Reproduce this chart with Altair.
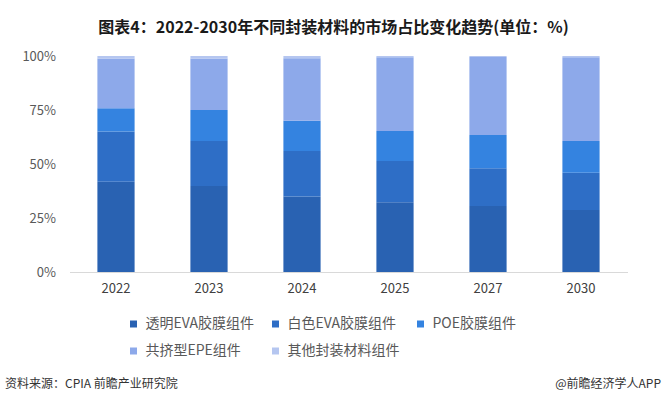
import altair as alt
import pandas as pd

years = ["2022", "2023", "2024", "2025", "2027", "2030"]
series = ["透明EVA胶膜组件", "白色EVA胶膜组件", "POE胶膜组件", "共挤型EPE组件", "其他封装材料组件"]
transparent_eva = [41.8, 39.8, 35.0, 32.3, 30.6, 28.7]
white_eva = [23.2, 20.8, 21.0, 19.1, 17.4, 17.3]
poe = [10.8, 14.4, 14.0, 13.9, 15.4, 14.6]
epe = [23.1, 23.9, 29.0, 34.1, 36.1, 38.8]
other = [1.1, 1.1, 1.0, 0.6, 0.5, 0.6]
colors = ["#2962B2", "#2E6EC6", "#3483E0", "#8DA9EA", "#B5C6F0"]

rows = []
for si, (name, vals) in enumerate(zip(series, [transparent_eva, white_eva, poe, epe, other])):
    for y, v in zip(years, vals):
        rows.append({"year": y, "series": name, "value": v, "order": si})
df = pd.DataFrame(rows)

FONT = "Noto Sans CJK SC"

bars = alt.Chart(df).mark_bar().encode(
    x=alt.X("year:N", sort=years, title=None,
            scale=alt.Scale(paddingInner=0.6, paddingOuter=0.3),
            axis=alt.Axis(labelAngle=0, ticks=False, domainColor="#D9D9D9", labelColor="#404040",
                          labelFontSize=13, labelFont=FONT, labelPadding=10)),
    y=alt.Y("value:Q", stack="zero", title=None,
            scale=alt.Scale(domain=[0, 100], nice=False),
            axis=alt.Axis(values=[0, 25, 50, 75, 100], labelExpr="datum.value + '%'", grid=False,
                          ticks=False, domain=False, labelColor="#595959", labelFontSize=13,
                          labelFont=FONT, labelPadding=14)),
    color=alt.Color("series:N", sort=series, scale=alt.Scale(domain=series, range=colors),
                    legend=alt.Legend(title=None, orient="none", legendX=57, legendY=261,
                                      direction="horizontal", columns=3, columnPadding=14,
                                      rowPadding=13, symbolType="square", symbolSize=49,
                                      symbolStrokeWidth=0, labelFontSize=14, labelFont=FONT,
                                      labelColor="#595959", labelOffset=5, padding=0)),
    order=alt.Order("order:Q", sort="ascending"),
)

foot_left = pd.DataFrame({"t": ["资料来源：CPIA 前瞻产业研究院"]})
foot_right = pd.DataFrame({"t": ["@前瞻经济学人APP"]})

fl = alt.Chart(foot_left).mark_text(align="left", baseline="middle", fontSize=12, font=FONT,
                                    color="#333333").encode(
    text="t:N", x=alt.value(-64.5), y=alt.value(328))
fr = alt.Chart(foot_right).mark_text(align="right", baseline="middle", fontSize=12, font=FONT,
                                     color="#333333").encode(
    text="t:N", x=alt.value(591.5), y=alt.value(328))

chart = alt.layer(bars, fl, fr).properties(
    width=558, height=216,
    background="white",
    title=alt.TitleParams("图表4：2022-2030年不同封装材料的市场占比变化趋势(单位：%)",
                          anchor="middle", frame="group", dx=-15, offset=14,
                          fontSize=16, font=FONT, fontWeight="bold", color="#1a1a1a"),
    autosize=alt.AutoSizeParams(type="none"),
    padding={"left": 69.5, "top": 56, "right": 36.5, "bottom": 136},
).configure_view(stroke=None)

chart.save("out.html", embed_options={"renderer": "svg", "actions": False})
